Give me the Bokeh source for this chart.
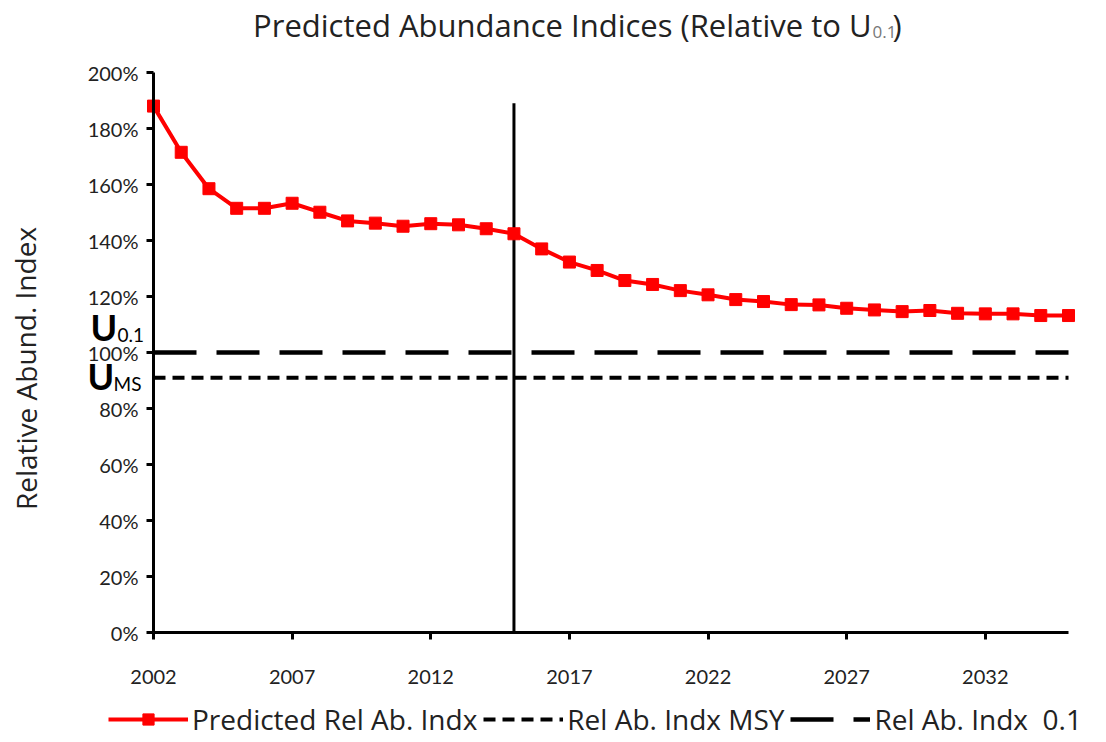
from bokeh.plotting import figure
from bokeh.models import (Label, Legend, LegendItem, FixedTicker,
                          NumeralTickFormatter, Range1d)
from bokeh.embed import file_html
from bokeh.resources import INLINE

# Projected abundance index relative to the U0.1 reference level
years = list(range(2002, 2036))
predicted = [1.880, 1.715, 1.585, 1.515, 1.515, 1.533, 1.501, 1.470, 1.462,
             1.451, 1.460, 1.456, 1.442, 1.424, 1.370, 1.323, 1.293, 1.257,
             1.243, 1.221, 1.206, 1.189, 1.182, 1.171, 1.170, 1.158, 1.152,
             1.146, 1.150, 1.140, 1.138, 1.138, 1.132, 1.132]

ref_u01 = 1.00      # relative abundance at U0.1
ref_msy = 0.91      # relative abundance at U_MSY
split_year = 2015   # boundary between assessment and projection
split_top = 1.89

x_ticks = [2002, 2007, 2012, 2017, 2022, 2027, 2032]
y_ticks = [0.0, 0.2, 0.4, 0.6, 0.8, 1.0, 1.2, 1.4, 1.6, 1.8, 2.0]
y_lo, y_hi = 0.0, 2.0

FONT = "Lato"
TFONT = "Open Sans"
W, H = 1106, 742
# pixel box of the plotting area inside the canvas
AX_L, AX_R, AX_T, AX_B = 153, 1068, 72, 632

x_lo, x_hi = years[0], years[-1]
px_per_x = (AX_R - AX_L) / (x_hi - x_lo)
px_per_y = (AX_B - AX_T) / (y_hi - y_lo)

# the frame spans the whole canvas; axes sit at fixed data locations
x_range = Range1d(x_lo - AX_L / px_per_x, x_hi + (W - AX_R) / px_per_x)
y_range = Range1d(y_lo - (H - AX_B) / px_per_y, y_hi + AX_T / px_per_y)

p = figure(width=W, height=H, output_backend="svg", toolbar_location=None,
           title=None, x_range=x_range, y_range=y_range, min_border=0)
p.outline_line_color = None
p.xgrid.visible = False
p.ygrid.visible = False
p.background_fill_color = "white"
p.border_fill_color = "white"


def cx(px):
    """canvas pixel x -> data x (annotation placement)"""
    return x_range.start + px / px_per_x


def cy(py):
    """canvas pixel y (from top) -> data y"""
    return y_range.start + (H - py) / px_per_y


xa, ya = p.xaxis[0], p.yaxis[0]
xa.fixed_location = y_lo
xa.bounds = (x_lo, x_hi)
ya.fixed_location = x_lo
ya.bounds = (y_lo, y_hi)

for ax in (xa, ya):
    ax.axis_line_width = 3
    ax.axis_line_color = "black"
    ax.major_tick_line_width = 3
    ax.major_tick_line_color = "black"
    ax.major_tick_in = 0
    ax.major_tick_out = 7
    ax.minor_tick_line_color = None
    ax.major_label_text_font = FONT
    ax.major_label_text_font_size = "20px"
    ax.major_label_text_color = "#222222"

xa.ticker = FixedTicker(ticks=x_ticks)
xa.major_label_standoff = 30
ya.ticker = FixedTicker(ticks=y_ticks)
ya.formatter = NumeralTickFormatter(format="0%")
ya.major_label_standoff = 8

# y-axis title, centred a little below the middle of the axis
p.add_layout(Label(x=cx(25), y=cy(368), text="Relative Abund. Index",
                   angle=1.5708, text_font=TFONT, text_font_size="28px",
                   text_align="center", text_baseline="middle",
                   text_color="#222222"))

# reference lines
msy_r = p.line([x_lo, x_hi], [ref_msy, ref_msy], line_color="black",
               line_width=4, line_dash="12 7")
u01_r = p.line([x_lo, x_hi], [ref_u01, ref_u01], line_color="black",
               line_width=4.5, line_dash="43 20")
p.segment(x0=[split_year], y0=[y_lo], x1=[split_year], y1=[split_top],
          line_color="black", line_width=3)

# predicted series
pred_line = p.line(years, predicted, line_color="#ff0000", line_width=4)
pred_pts = p.scatter(years, predicted, marker="square", size=12,
                     fill_color="#ff0000", line_color="#ff0000")

legend = Legend(items=[
    LegendItem(label="Predicted Rel Ab. Indx", renderers=[pred_line, pred_pts]),
    LegendItem(label="Rel Ab. Indx MSY", renderers=[msy_r]),
    LegendItem(label="Rel Ab. Indx  0.1", renderers=[u01_r]),
], orientation="horizontal", location=(108, 4))
legend.label_text_font = TFONT
legend.label_text_font_size = "28px"
legend.label_text_color = "#222222"
legend.glyph_width = 80
legend.glyph_height = 28
legend.spacing = 6
legend.label_standoff = 4
legend.padding = 0
legend.margin = 0
legend.border_line_color = None
legend.background_fill_alpha = 0
p.add_layout(legend, "center")

# title with subscript
title_right = 871
p.add_layout(Label(x=cx(title_right), y=cy(24),
                   text="Predicted Abundance Indices (Relative to U",
                   text_font=TFONT, text_font_size="31px", text_align="right",
                   text_baseline="alphabetic", text_color="#222222"))
p.add_layout(Label(x=cx(title_right + 1), y=cy(31), text="0.1",
                   text_font=TFONT, text_font_size="17px", text_align="left",
                   text_baseline="alphabetic", text_color="#777777"))
p.add_layout(Label(x=cx(title_right + 21), y=cy(24), text=")",
                   text_font=TFONT, text_font_size="31px", text_align="left",
                   text_baseline="alphabetic", text_color="#222222"))

# reference point markers next to the y axis
p.add_layout(Label(x=cx(90), y=cy(326), text="U", text_font=FONT,
                   text_font_size="36px", text_font_style="bold",
                   text_baseline="alphabetic", text_color="black"))
p.add_layout(Label(x=cx(117), y=cy(334), text="0.1", text_font=FONT,
                   text_font_size="19px", text_baseline="alphabetic",
                   text_color="black"))
p.add_layout(Label(x=cx(87), y=cy(375), text="U", text_font=FONT,
                   text_font_size="36px", text_font_style="bold",
                   text_baseline="alphabetic", text_color="black"))
p.add_layout(Label(x=cx(113), y=cy(383), text="MS", text_font=FONT,
                   text_font_size="19px", text_baseline="alphabetic",
                   text_color="black"))

with open("out.html", "w") as f:
    f.write(file_html(p, INLINE))
